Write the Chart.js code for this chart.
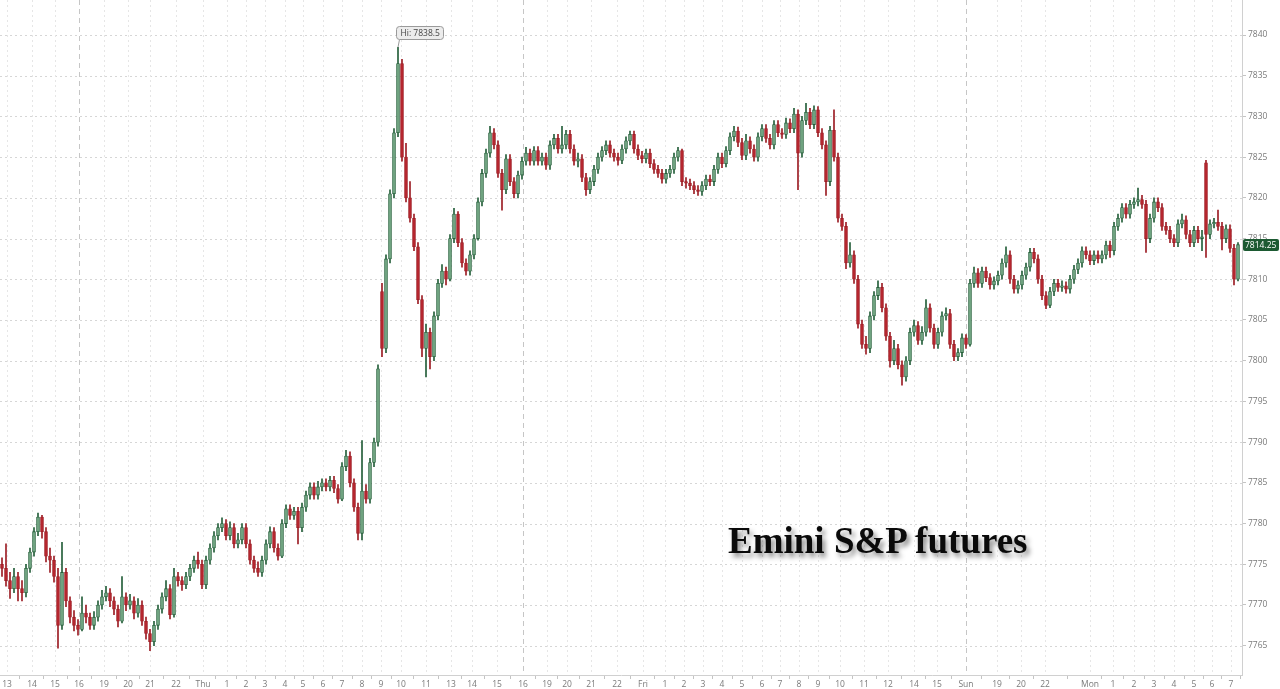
<!DOCTYPE html>
<html>
<head>
<meta charset="utf-8">
<script src="https://cdn.jsdelivr.net/npm/chart.js@4/dist/chart.umd.min.js"></script>
<style>
  html, body { margin: 0; padding: 0; background: #ffffff; }
  #wrap { position: relative; width: 1280px; height: 689px; }
  #title {
    position: absolute; left: 728px; top: 520px;
    font-family: "Liberation Serif", "DejaVu Serif", serif; font-weight: bold;
    font-size: 37px; line-height: 42px; color: #0a0a0a; white-space: nowrap;
    text-shadow: 3px 4px 5px rgba(0,0,0,0.45);
  }
</style>
</head>
<body>
<div id="wrap">
  <canvas id="c" width="1280" height="689"></canvas>
  <div id="title">Emini S&amp;P futures</div>
</div>
<script>
const opens = [
7775.0,7774.5,7773.0,7772.0,7773.5,7772.0,7771.5,7774.5,7776.5,7779.0,
7780.8,7779.0,7776.0,7775.5,7773.5,7767.5,7774.0,7770.5,7768.5,7767.5,
7767.0,7769.0,7768.5,7767.5,7768.5,7770.0,7771.0,7771.5,7770.5,7769.5,
7768.0,7771.0,7770.0,7770.5,7769.0,7770.0,7768.0,7766.5,7765.5,7767.5,
7769.5,7771.0,7772.0,7768.8,7773.5,7773.0,7772.5,7773.5,7774.5,7775.5,
7775.0,7772.5,7775.5,7777.0,7778.5,7779.5,7780.0,7778.5,7779.5,7777.5,
7778.0,7779.5,7777.5,7775.5,7774.5,7774.0,7775.5,7777.5,7779.0,7777.0,
7776.0,7780.0,7781.8,7781.0,7781.5,7779.5,7782.0,7783.5,7784.5,7783.5,
7784.5,7785.0,7784.5,7785.3,7784.3,7783.0,7787.0,7788.3,7785.0,7782.0,
7778.8,7784.0,7783.0,7787.5,7790.0,7808.5,7801.5,7812.5,7820.5,7828.0,
7836.5,7825.0,7820.0,7817.5,7814.0,7807.5,7801.5,7803.5,7800.5,7805.5,
7809.5,7811.0,7810.0,7815.0,7818.0,7814.5,7812.0,7811.0,7813.0,7815.0,
7819.5,7823.0,7825.5,7828.0,7826.5,7823.0,7821.0,7824.8,7822.0,7820.5,
7822.8,7824.5,7825.5,7824.5,7825.8,7824.5,7825.0,7824.0,7826.5,7827.3,
7826.0,7826.5,7827.8,7826.0,7824.5,7824.8,7822.5,7821.0,7822.0,7823.5,
7825.0,7825.8,7826.5,7825.5,7825.0,7824.6,7826.0,7827.0,7827.8,7826.0,
7825.2,7824.8,7825.5,7824.2,7823.5,7823.0,7822.3,7823.0,7823.5,7825.0,
7825.8,7822.0,7821.8,7821.5,7821.0,7820.8,7821.5,7822.3,7822.0,7823.5,
7825.0,7824.2,7825.8,7827.5,7828.2,7826.8,7825.2,7827.0,7826.0,7825.0,
7827.5,7828.5,7827.3,7826.5,7829.0,7828.0,7827.8,7829.2,7828.5,7830.3,
7825.5,7829.5,7830.5,7829.0,7830.8,7828.0,7826.5,7822.0,7828.3,7825.0,
7817.5,7816.5,7812.0,7813.0,7810.0,7804.5,7802.0,7801.5,7805.5,7808.0,
7809.0,7806.5,7803.0,7800.0,7801.5,7799.5,7798.0,7800.0,7803.5,7804.3,
7802.5,7803.5,7806.5,7804.0,7802.0,7803.5,7805.5,7805.8,7802.0,7800.5,
7801.0,7802.8,7802.0,7809.5,7810.8,7809.5,7811.0,7810.2,7809.3,7809.8,
7810.5,7812.0,7813.0,7810.0,7808.8,7809.3,7810.5,7811.5,7813.3,7812.5,
7810.0,7808.0,7806.8,7808.5,7809.5,7809.0,7809.2,7808.8,7810.0,7811.2,
7812.0,7813.5,7813.0,7812.3,7813.0,7812.5,7813.0,7814.2,7813.5,7816.5,
7817.5,7818.8,7818.0,7819.2,7819.5,7819.8,7819.2,7815.0,7817.5,7819.5,
7818.8,7816.5,7816.0,7815.0,7814.5,7816.8,7817.3,7815.5,7814.5,7816.0,
7815.0,7824.3,7815.5,7816.8,7817.0,7816.5,7815.0,7816.2,7813.8,7810.0
];
const highs = [
7775.8,7777.5,7774.0,7774.5,7774.0,7773.0,7775.0,7777.0,7779.5,7781.3,
7781.0,7779.5,7777.0,7776.0,7774.5,7777.7,7774.5,7771.0,7769.3,7768.2,
7771.0,7770.0,7769.0,7769.2,7770.5,7771.8,7772.3,7772.0,7771.0,7770.0,
7773.5,7771.5,7771.3,7771.0,7770.8,7770.5,7768.5,7767.0,7768.0,7770.0,
7771.5,7773.0,7772.5,7774.5,7774.0,7773.5,7774.0,7775.0,7776.0,7776.5,
7775.5,7776.0,7777.5,7779.0,7780.0,7780.7,7780.5,7780.2,7780.0,7778.8,
7780.0,7780.0,7778.0,7776.0,7775.3,7776.0,7778.0,7779.6,7779.5,7777.5,
7780.5,7782.3,7782.3,7782.0,7782.0,7782.5,7784.0,7785.0,7785.0,7785.2,
7785.5,7785.5,7785.8,7785.8,7784.8,7787.5,7789.0,7788.8,7785.5,7782.5,
7790.2,7784.8,7788.0,7790.5,7799.5,7809.5,7813.0,7821.0,7828.5,7838.5,
7837.0,7826.7,7822.0,7818.0,7814.5,7808.0,7804.5,7804.0,7806.0,7810.0,
7811.8,7811.5,7815.5,7818.7,7818.3,7815.0,7812.5,7813.5,7815.5,7820.0,
7823.5,7826.0,7828.8,7828.5,7827.0,7823.5,7825.3,7825.3,7822.5,7823.3,
7825.0,7826.2,7826.0,7826.3,7826.3,7825.5,7825.5,7827.0,7827.8,7827.8,
7828.8,7828.3,7828.3,7826.5,7825.5,7825.3,7823.0,7822.5,7824.0,7825.5,
7826.3,7827.0,7827.0,7826.0,7825.5,7826.5,7827.5,7828.2,7828.2,7826.5,
7825.7,7826.0,7826.0,7824.7,7824.0,7823.5,7823.5,7824.0,7825.5,7826.2,
7826.0,7822.5,7822.3,7822.0,7821.5,7822.0,7822.8,7822.8,7824.0,7825.5,
7825.5,7826.3,7828.0,7828.8,7828.7,7827.3,7827.8,7827.5,7826.5,7828.0,
7829.0,7829.0,7827.8,7829.5,7829.5,7828.5,7829.8,7829.7,7831.0,7830.8,
7830.0,7831.6,7831.0,7831.3,7831.2,7828.5,7827.0,7828.8,7830.8,7825.5,
7818.0,7817.0,7814.5,7813.5,7810.5,7805.0,7803.0,7806.0,7808.5,7809.8,
7809.5,7807.0,7803.5,7802.5,7802.0,7800.0,7800.5,7804.0,7805.0,7804.8,
7804.2,7807.5,7807.0,7804.5,7804.0,7806.0,7806.5,7806.3,7802.5,7801.5,
7803.3,7803.2,7810.0,7811.5,7811.3,7811.5,7811.5,7810.7,7810.3,7811.0,
7812.5,7814.0,7813.5,7810.5,7809.8,7811.0,7812.0,7813.8,7813.8,7813.0,
7810.5,7808.5,7809.0,7810.0,7810.0,7809.8,7809.7,7810.5,7811.7,7812.5,
7814.0,7814.0,7813.5,7813.5,7813.5,7813.5,7814.7,7814.7,7817.0,7818.0,
7819.3,7819.3,7819.7,7820.0,7821.2,7820.3,7819.7,7818.0,7820.0,7820.0,
7819.3,7817.0,7816.5,7815.5,7817.3,7818.0,7817.8,7816.0,7816.5,7816.5,
7816.0,7824.6,7817.3,7817.5,7818.5,7817.0,7816.7,7816.7,7814.3,7814.5
];
const lows = [
7773.5,7772.3,7770.8,7771.5,7770.5,7770.5,7771.0,7774.0,7776.0,7778.5,
7778.2,7775.3,7774.0,7772.8,7764.7,7767.0,7769.8,7767.8,7766.8,7766.3,
7766.8,7767.8,7767.0,7767.0,7768.0,7769.5,7770.5,7769.8,7768.8,7767.3,
7767.8,7769.3,7769.5,7768.3,7768.5,7767.5,7765.8,7764.4,7765.0,7767.0,
7769.0,7770.5,7768.3,7768.5,7772.3,7771.8,7772.0,7773.0,7774.0,7774.5,
7772.0,7772.0,7775.0,7776.5,7778.0,7779.0,7778.0,7778.0,7777.0,7777.0,
7777.5,7777.0,7775.0,7774.0,7773.5,7773.5,7775.0,7777.0,7776.5,7775.5,
7775.8,7779.5,7780.5,7780.5,7777.5,7779.0,7781.5,7783.0,7783.0,7783.0,
7784.0,7784.0,7784.0,7783.8,7782.5,7782.8,7786.5,7784.5,7781.5,7778.0,
7778.0,7782.5,7782.5,7787.0,7789.5,7800.5,7801.0,7812.0,7820.0,7827.5,
7824.5,7819.5,7817.0,7813.5,7807.0,7800.5,7798.0,7799.0,7800.0,7805.0,
7809.0,7809.3,7809.8,7814.5,7814.0,7811.5,7810.5,7810.5,7812.5,7814.8,
7819.0,7822.5,7825.0,7826.0,7822.5,7818.5,7820.5,7821.5,7820.0,7820.0,
7822.3,7824.0,7824.0,7824.0,7824.0,7824.0,7823.5,7823.5,7826.0,7825.5,
7825.5,7826.0,7825.5,7824.0,7823.8,7822.0,7820.3,7820.5,7821.5,7823.0,
7824.5,7825.3,7825.0,7824.5,7824.0,7824.2,7825.5,7826.5,7825.5,7824.7,
7824.3,7824.3,7823.7,7823.0,7822.5,7821.8,7821.8,7822.5,7823.0,7824.5,
7821.5,7821.2,7821.0,7820.5,7820.3,7820.3,7821.0,7821.5,7821.5,7823.0,
7823.7,7823.8,7825.3,7827.0,7826.3,7824.7,7824.7,7825.5,7824.5,7824.5,
7827.0,7826.8,7826.0,7826.0,7827.5,7827.3,7827.3,7828.0,7828.0,7821.0,
7825.0,7829.0,7828.5,7828.5,7827.5,7826.0,7820.3,7821.5,7824.5,7817.0,
7816.0,7811.3,7811.5,7809.5,7804.0,7801.5,7800.8,7801.0,7805.0,7807.5,
7806.0,7802.5,7799.2,7799.5,7799.0,7797.0,7797.5,7799.5,7803.0,7802.0,
7802.0,7803.0,7803.5,7801.5,7801.5,7803.0,7805.0,7801.5,7800.0,7800.0,
7800.5,7801.5,7801.8,7809.0,7809.0,7809.0,7809.7,7808.8,7808.8,7809.3,
7810.0,7811.5,7809.5,7808.3,7808.3,7808.8,7810.0,7811.0,7812.0,7809.5,
7807.5,7806.4,7806.5,7808.0,7808.5,7808.5,7808.3,7808.3,7809.5,7810.7,
7811.5,7812.5,7811.8,7811.8,7812.0,7812.0,7812.5,7812.7,7813.0,7816.0,
7817.0,7817.5,7817.5,7818.7,7819.0,7818.7,7813.3,7814.5,7817.0,7818.3,
7816.0,7815.5,7814.5,7814.0,7814.0,7816.3,7815.0,7814.0,7814.0,7814.5,
7813.5,7812.7,7815.0,7816.3,7816.0,7813.6,7814.5,7813.3,7809.3,7809.8
];
const closes = [
7774.5,7773.0,7772.0,7773.5,7772.0,7771.5,7774.5,7776.5,7779.0,7780.8,
7779.0,7776.0,7775.5,7773.5,7767.5,7774.0,7770.5,7768.5,7767.5,7767.0,
7769.0,7768.5,7767.5,7768.5,7770.0,7771.0,7771.5,7770.5,7769.5,7768.0,
7771.0,7770.0,7770.5,7769.0,7770.0,7768.0,7766.5,7765.5,7767.5,7769.5,
7771.0,7772.0,7768.8,7773.5,7773.0,7772.5,7773.5,7774.5,7775.5,7775.0,
7772.5,7775.5,7777.0,7778.5,7779.5,7780.0,7778.5,7779.5,7777.5,7778.0,
7779.5,7777.5,7775.5,7774.5,7774.0,7775.5,7777.5,7779.0,7777.0,7776.0,
7780.0,7781.8,7781.0,7781.5,7779.5,7782.0,7783.5,7784.5,7783.5,7784.5,
7785.0,7784.5,7785.3,7784.3,7783.0,7787.0,7788.3,7785.0,7782.0,7778.8,
7784.0,7783.0,7787.5,7790.0,7799.0,7801.5,7812.5,7820.5,7828.0,7836.5,
7825.0,7820.0,7817.5,7814.0,7807.5,7801.5,7803.5,7800.5,7805.5,7809.5,
7811.0,7810.0,7815.0,7818.0,7814.5,7812.0,7811.0,7813.0,7815.0,7819.5,
7823.0,7825.5,7828.0,7826.5,7823.0,7821.0,7824.8,7822.0,7820.5,7822.8,
7824.5,7825.5,7824.5,7825.8,7824.5,7825.0,7824.0,7826.5,7827.3,7826.0,
7826.5,7827.8,7826.0,7824.5,7824.8,7822.5,7821.0,7822.0,7823.5,7825.0,
7825.8,7826.5,7825.5,7825.0,7824.6,7826.0,7827.0,7827.8,7826.0,7825.2,
7824.8,7825.5,7824.2,7823.5,7823.0,7822.3,7823.0,7823.5,7825.0,7825.8,
7822.0,7821.8,7821.5,7821.0,7820.8,7821.5,7822.3,7822.0,7823.5,7825.0,
7824.2,7825.8,7827.5,7828.2,7826.8,7825.2,7827.0,7826.0,7825.0,7827.5,
7828.5,7827.3,7826.5,7829.0,7828.0,7827.8,7829.2,7828.5,7830.3,7825.5,
7829.5,7830.5,7829.0,7830.8,7828.0,7826.5,7822.0,7828.3,7825.0,7817.5,
7816.5,7812.0,7813.0,7810.0,7804.5,7802.0,7801.5,7805.5,7808.0,7809.0,
7806.5,7803.0,7800.0,7801.5,7799.5,7798.0,7800.0,7803.5,7804.3,7802.5,
7803.5,7806.5,7804.0,7802.0,7803.5,7805.5,7805.8,7802.0,7800.5,7801.0,
7802.8,7802.0,7809.5,7810.8,7809.5,7811.0,7810.2,7809.3,7809.8,7810.5,
7812.0,7813.0,7810.0,7808.8,7809.3,7810.5,7811.5,7813.3,7812.5,7810.0,
7808.0,7806.8,7808.5,7809.5,7809.0,7809.2,7808.8,7810.0,7811.2,7812.0,
7813.5,7813.0,7812.3,7813.0,7812.5,7813.0,7814.2,7813.5,7816.5,7817.5,
7818.8,7818.0,7819.2,7819.5,7819.8,7819.2,7815.0,7817.5,7819.5,7818.8,
7816.5,7816.0,7815.0,7814.5,7816.8,7817.3,7815.5,7814.5,7816.0,7815.0,
7815.2,7815.5,7816.8,7817.0,7816.5,7815.0,7816.2,7813.8,7810.0,7814.25
];
const xTickPos = [1.25,7.5,13.25,19.25,25.5,31.5,37,43.5,
  50.25,56.25,61,65.75,70.75,75.25,80.25,85,90,94.75,99.75,106,
  112.25,117.5,123.75,130.25,136.25,141.25,147.25,153.75,
  160.25,165.75,170.5,175.25,180,185,190,194.5,199.25,204,209.5,215.5,
  221.5,228,233.75,241,248.75,254.75,260.75,
  272,277.75,283,288,293,298,302.5,307.25];
const xTickLabels = ['13','14','15','16','19','20','21','22',
  'Thu','1','2','3','4','5','6','7','8','9','10','11',
  '13','14','15','16','19','20','21','22',
  'Fri','1','2','3','4','5','6','7','8','9','10','11',
  '12','14','15','Sun','19','20','22',
  'Mon','1','2','3','4','5','6','7'];
const sessionBreaks = [19.25, 130.25, 241];
const yTickValues = [7765,7770,7775,7780,7785,7790,7795,7800,7805,7810,7815,7820,7825,7830,7835,7840];

const UP_FILL = '#6fa380', UP_LINE = '#255f3a';
const DN_FILL = '#b5262e', DN_LINE = '#9c1d25';

const idx = closes.map((_, i) => i);
const isUp = idx.map(i => closes[i] >= opens[i]);
const bodyData = idx.map(i => ({ x: i, y: [opens[i], closes[i]] }));
const wickData = idx.map(i => ({ x: i, y: [lows[i], highs[i]] }));

const overlay = {
  id: 'overlay',
  beforeDatasetsDraw(chart) {
    const { ctx, chartArea: a, scales: { x, y } } = chart;
    ctx.save();
    ctx.lineWidth = 1;
    ctx.setLineDash([2, 3]);
    ctx.strokeStyle = '#d6d6d6';
    yTickValues.forEach(v => {
      const py = Math.round(y.getPixelForValue(v)) + 0.5;
      ctx.beginPath(); ctx.moveTo(a.left, py); ctx.lineTo(a.right, py); ctx.stroke();
    });
    ctx.strokeStyle = '#e6e6e6';
    xTickPos.forEach(v => {
      if (sessionBreaks.includes(v)) return;
      const px = Math.round(x.getPixelForValue(v)) + 0.5;
      ctx.beginPath(); ctx.moveTo(px, a.top); ctx.lineTo(px, a.bottom); ctx.stroke();
    });
    ctx.setLineDash([5, 4]);
    ctx.strokeStyle = '#c6c6c6';
    sessionBreaks.forEach(v => {
      const px = Math.round(x.getPixelForValue(v)) + 0.5;
      ctx.beginPath(); ctx.moveTo(px, a.top); ctx.lineTo(px, a.bottom); ctx.stroke();
    });
    ctx.restore();
  },
  afterDraw(chart) {
    const { ctx, chartArea: a, scales: { x, y } } = chart;
    ctx.save();
    let hi = 0;
    highs.forEach((h, i) => { if (h > highs[hi]) hi = i; });
    const hx = x.getPixelForValue(hi), hy = y.getPixelForValue(highs[hi]);
    ctx.font = '8.5px "Open Sans", sans-serif';
    const txt = 'Hi: ' + highs[hi];
    const tw = ctx.measureText(txt).width;
    const bx = Math.round(hx) - 1.5, by = Math.round(hy) - 20.5, bw = Math.round(tw + 8), bh = 13;
    ctx.strokeStyle = '#9a9a9a'; ctx.lineWidth = 1;
    ctx.beginPath(); ctx.moveTo(bx + 3, by + bh); ctx.lineTo(hx, hy); ctx.stroke();
    ctx.fillStyle = '#ececec';
    ctx.beginPath(); ctx.roundRect(bx, by, bw, bh, 3); ctx.fill(); ctx.stroke();
    ctx.fillStyle = '#444'; ctx.textBaseline = 'middle'; ctx.textAlign = 'left';
    ctx.fillText(txt, bx + 4, by + bh / 2 + 0.5);
    const last = closes[closes.length - 1];
    const ly = y.getPixelForValue(last);
    ctx.fillStyle = '#1c5a32';
    ctx.beginPath(); ctx.roundRect(a.right + 1, Math.round(ly) - 6, 1279 - a.right - 1, 12, 2); ctx.fill();
    ctx.fillStyle = '#ffffff'; ctx.font = '8.5px "Open Sans", sans-serif';
    ctx.fillText(last.toFixed(2), a.right + 3, Math.round(ly) + 0.5);
    ctx.restore();
  }
};

new Chart(document.getElementById('c'), {
  type: 'bar',
  data: {
    datasets: [
      {
        label: 'body', data: bodyData, order: 1, grouped: false,
        barThickness: 3, minBarLength: 1,
        backgroundColor: idx.map(i => isUp[i] ? UP_FILL : DN_FILL),
        borderColor: idx.map(i => isUp[i] ? UP_LINE : DN_LINE),
        borderWidth: 0.8, borderSkipped: false
      },
      {
        label: 'wick', data: wickData, order: 2, grouped: false,
        barThickness: 1,
        backgroundColor: idx.map(i => isUp[i] ? UP_LINE : DN_LINE),
        borderWidth: 0
      }
    ]
  },
  options: {
    responsive: false, animation: false, devicePixelRatio: 1,
    layout: { padding: 0 },
    plugins: { legend: { display: false }, tooltip: { enabled: false } },
    scales: {
      x: {
        type: 'linear', position: 'bottom', min: -0.5, max: 310, offset: false,
        afterBuildTicks: s => { s.ticks = xTickPos.map(v => ({ value: v })); },
        afterFit: s => { s.height = 14; s.paddingLeft = 0; s.paddingRight = 0; },
        grid: { drawOnChartArea: false, drawTicks: true, tickLength: 4, color: '#c4c4c4' },
        border: { color: '#d0d0d0' },
        ticks: {
          autoSkip: false, maxRotation: 0, padding: 0, color: '#7a7a7a',
          font: { family: 'Open Sans', size: 8.5 },
          callback: (v, i) => xTickLabels[i]
        }
      },
      y: {
        type: 'linear', position: 'right', min: 7761.4, max: 7844.3,
        afterBuildTicks: s => { s.ticks = yTickValues.map(v => ({ value: v })); },
        afterFit: s => { s.width = 38; s.paddingTop = 0; s.paddingBottom = 0; },
        grid: { drawOnChartArea: false, drawTicks: true, tickLength: 4, color: '#c4c4c4' },
        border: { color: '#d0d0d0' },
        ticks: {
          padding: 2, color: '#7a7a7a',
          font: { family: 'Open Sans', size: 8.5 },
          callback: v => String(v)
        }
      }
    }
  },
  plugins: [overlay]
});
</script>
</body>
</html>
